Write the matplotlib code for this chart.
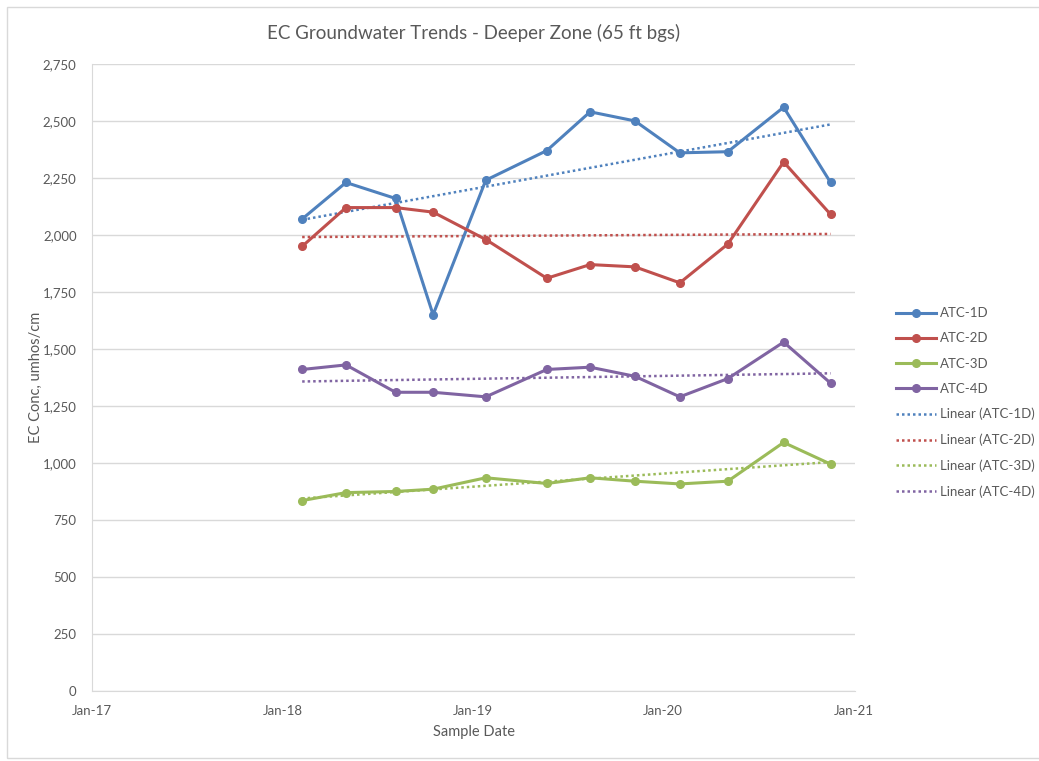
import numpy as np
import pandas as pd
import matplotlib
matplotlib.use('Agg')
import matplotlib.pyplot as plt
import matplotlib.dates as mdates
from matplotlib.ticker import FuncFormatter, MultipleLocator
from matplotlib.patches import Rectangle

plt.rcParams['font.family'] = ['Lato', 'DejaVu Sans']

# sample dates
dates = pd.to_datetime(['2018-02-08', '2018-05-03', '2018-08-06', '2018-10-17',
                        '2019-01-26', '2019-05-23', '2019-08-14', '2019-11-08',
                        '2020-02-02', '2020-05-04', '2020-08-19', '2020-11-17'])

atc_1d = [2070, 2230, 2160, 1650, 2240, 2370, 2540, 2500, 2360, 2365, 2560, 2230]
atc_2d = [1950, 2120, 2120, 2100, 1980, 1810, 1870, 1860, 1790, 1960, 2320, 2090]
atc_3d = [835, 870, 875, 885, 935, 910, 935, 920, 908, 920, 1090, 995]
atc_4d = [1410, 1430, 1310, 1310, 1290, 1410, 1420, 1380, 1290, 1370, 1530, 1350]

names = ['ATC-1D', 'ATC-2D', 'ATC-3D', 'ATC-4D']
series = [atc_1d, atc_2d, atc_3d, atc_4d]
colors = ['#4F81BD', '#C0504D', '#9BBB59', '#8064A2']

fig = plt.figure(figsize=(10.39, 7.61), dpi=100)
ax = fig.add_axes([0.0885, 0.092, 0.7345, 0.824])

# outer chart border
fig.patches.append(Rectangle((7/1039, 3/761), 1.0, 751/761, transform=fig.transFigure,
                             fill=False, edgecolor='#D9D9D9', lw=1))

xnum = mdates.date2num(dates)
lines = []
for name, vals, c in zip(names, series, colors):
    l, = ax.plot(dates, vals, color=c, lw=2.2, marker='o', ms=5.5, label=name, zorder=3)
    lines.append(l)

trends = []
for name, vals, c in zip(names, series, colors):
    k, b = np.polyfit(xnum, vals, 1)
    t, = ax.plot(dates, k*xnum + b, color=c, lw=1.8, ls=(0, (1, 1.2)),
                 label='Linear (%s)' % name, zorder=2)
    trends.append(t)

ax.set_ylim(0, 2750)
ax.yaxis.set_major_locator(MultipleLocator(250))
ax.yaxis.set_major_formatter(FuncFormatter(lambda v, p: '{:,.0f}'.format(v)))
ax.set_xlim(pd.Timestamp('2017-01-01'), pd.Timestamp('2021-01-03'))
ax.xaxis.set_major_locator(mdates.YearLocator())
ax.xaxis.set_major_formatter(mdates.DateFormatter('%b-%y'))

ax.grid(axis='y', color='#D9D9D9', lw=1)
ax.set_axisbelow(True)
for s in ['top', 'right']:
    ax.spines[s].set_visible(False)
for s in ['left', 'bottom']:
    ax.spines[s].set_color('#D9D9D9')
ax.tick_params(length=0, colors='#595959', labelsize=9.5)
ax.tick_params(axis='x', pad=10)
ax.tick_params(axis='y', pad=11)

ax.set_title('EC Groundwater Trends - Deeper Zone (65 ft bgs)', fontsize=13.5,
             color='#595959', pad=18)
ax.set_xlabel('Sample Date', fontsize=10.5, color='#595959', labelpad=6)
ax.set_ylabel('EC Conc, umhos/cm', fontsize=10.5, color='#595959', labelpad=0)

leg = fig.legend(lines + trends, [l.get_label() for l in lines + trends],
                 loc='upper left', bbox_to_anchor=(0.851, 0.612), frameon=False,
                 fontsize=9.5, labelspacing=1.0, handlelength=3.0,
                 handletextpad=0.3)
for t in leg.get_texts():
    t.set_color('#595959')

fig.savefig('out.png', dpi=100)
